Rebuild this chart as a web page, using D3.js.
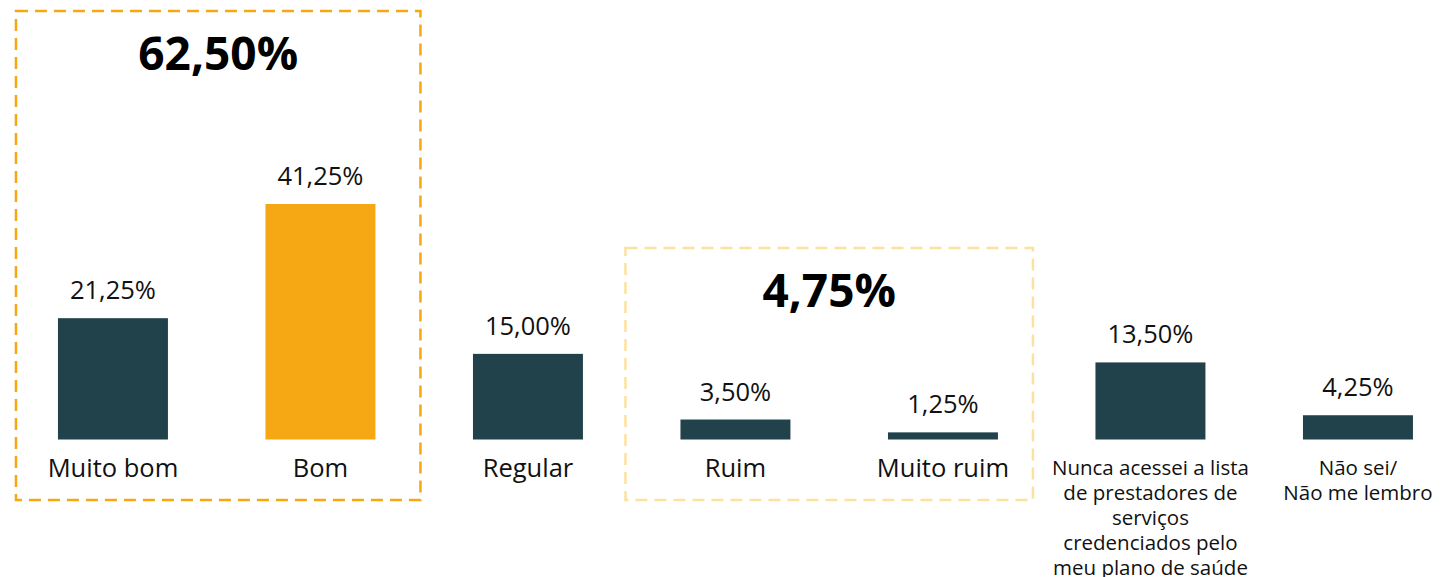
<!DOCTYPE html>
<html lang="pt">
<head>
<meta charset="utf-8">
<title>Avaliação</title>
<script src="https://d3js.org/d3.v7.min.js"></script>
<style>
  body { margin: 0; background: #fff; }
  svg text { font-family: "Open Sans", "Noto Sans", sans-serif; fill: #111; }
</style>
</head>
<body>
<svg id="chart" width="1445" height="577"></svg>
<script>
// data
var categories = ["Muito bom", "Bom", "Regular", "Ruim", "Muito ruim",
  "Nunca acessei a lista de prestadores de serviços credenciados pelo meu plano de saúde",
  "Não sei/ Não me lembro"];
var labelLines = [
  ["Muito bom"], ["Bom"], ["Regular"], ["Ruim"], ["Muito ruim"],
  ["Nunca acessei a lista", "de prestadores de", "serviços", "credenciados pelo", "meu plano de saúde"],
  ["Não sei/", "Não me lembro"]
];
var values = [21.25, 41.25, 15.00, 3.50, 1.25, 13.50, 4.25];
var highlight = ["Bom"];
var groups = [
  { label: "62,50%", from: "Muito bom", to: "Bom" },
  { label: "4,75%", from: "Ruim", to: "Muito ruim" }
];

var fmt = function(v) { return v.toFixed(2).replace(".", ",") + "%"; };

var svg = d3.select("#chart");
var baseY = 439.5;

var x = d3.scaleBand()
  .domain(categories)
  .range([9.2, 1461.7])
  .paddingInner(0.47)
  .paddingOuter(0.235);

var y = d3.scaleLinear()
  .domain([0, 41.25])
  .range([baseY, 204]);

var bw = x.bandwidth();

// group boxes
var boxStyle = [
  { top: 11, left: 42, right: 45, stroke: "#f5a714", width: 2.5, dash: "12,7", size: 46 },
  { top: 248, left: 55, right: 35, stroke: "#fde1a0", width: 2.5, dash: "12,7", size: 46 }
];
groups.forEach(function(g, i) {
  var s = boxStyle[i];
  var x0 = x(g.from) - s.left, x1 = x(g.to) + bw + s.right;
  svg.append("rect")
    .attr("x", x0).attr("y", s.top)
    .attr("width", x1 - x0).attr("height", 500 - s.top)
    .attr("fill", "none")
    .attr("stroke", s.stroke)
    .attr("stroke-width", s.width)
    .attr("stroke-dasharray", s.dash);
  svg.append("text")
    .attr("x", (x0 + x1) / 2)
    .attr("y", s.top + 59)
    .attr("text-anchor", "middle")
    .attr("font-size", s.size)
    .attr("font-weight", "bold")
    .style("fill", "#000")
    .text(g.label);
});

// bars
svg.selectAll(".bar")
  .data(categories)
  .enter().append("rect")
  .attr("class", "bar")
  .attr("x", function(d) { return x(d); })
  .attr("y", function(d, i) { return y(values[i]); })
  .attr("width", bw)
  .attr("height", function(d, i) { return baseY - y(values[i]); })
  .attr("fill", function(d) { return highlight.indexOf(d) >= 0 ? "#f5a714" : "#21414b"; });

// value labels
svg.selectAll(".val")
  .data(categories)
  .enter().append("text")
  .attr("class", "val")
  .attr("x", function(d) { return x(d) + bw / 2; })
  .attr("y", function(d, i) { return y(values[i]) - 19; })
  .attr("text-anchor", "middle")
  .attr("font-size", 25.5)
  .text(function(d, i) { return fmt(values[i]); });

// category labels
var lab = svg.selectAll(".cat")
  .data(categories)
  .enter().append("text")
  .attr("class", "cat")
  .attr("text-anchor", "middle")
  .attr("font-size", function(d, i) { return labelLines[i].length > 1 ? 20.5 : 25.5; });

lab.each(function(d, i) {
  var t = d3.select(this);
  var multi = labelLines[i].length > 1;
  labelLines[i].forEach(function(line, j) {
    t.append("tspan")
      .attr("x", x(d) + bw / 2)
      .attr("y", (multi ? 475 : 477) + j * 25)
      .text(line);
  });
});
</script>
</body>
</html>
